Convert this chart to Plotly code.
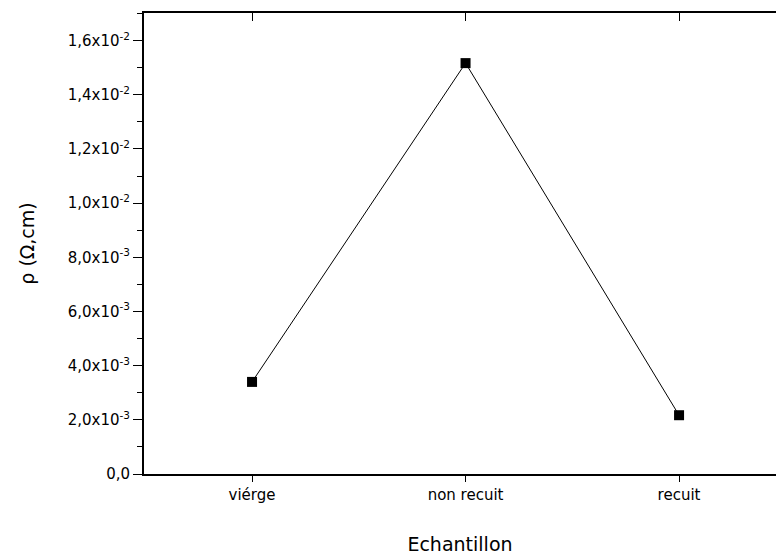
import plotly.graph_objects as go

categories = ["viérge", "non recuit", "recuit"]
rho = [3.40e-3, 1.517e-2, 2.17e-3]
ytick_vals = [0, 2e-3, 4e-3, 6e-3, 8e-3, 1.0e-2, 1.2e-2, 1.4e-2, 1.6e-2]
ytick_text = ["0,0", "2,0x10<sup>-3</sup>", "4,0x10<sup>-3</sup>", "6,0x10<sup>-3</sup>",
              "8,0x10<sup>-3</sup>", "1,0x10<sup>-2</sup>", "1,2x10<sup>-2</sup>",
              "1,4x10<sup>-2</sup>", "1,6x10<sup>-2</sup>"]
yminor_vals = [1e-3, 3e-3, 5e-3, 7e-3, 9e-3, 1.1e-2, 1.3e-2, 1.5e-2, 1.7e-2]

xpos = list(range(len(categories)))
xrange_ = [-0.506, 2.454]
yrange_ = [0, 0.01702]
font = "DejaVu Sans, Liberation Sans, Arial, sans-serif"

fig = go.Figure()
fig.add_trace(go.Scatter(
    x=xpos, y=rho, mode="lines+markers",
    line=dict(color="black", width=1),
    marker=dict(symbol="square", size=10, color="black"),
    showlegend=False, hoverinfo="skip"))
fig.add_trace(go.Scatter(x=xpos, y=rho, xaxis="x2", yaxis="y2", mode="markers",
                         marker=dict(opacity=0), showlegend=False, hoverinfo="skip"))

fig.update_layout(
    width=776, height=556,
    margin=dict(l=144, r=0, t=13, b=82, pad=0),
    plot_bgcolor="white", paper_bgcolor="white",
    font=dict(family=font, size=16, color="black"),
    xaxis=dict(range=xrange_, tickmode="array", tickvals=xpos, ticktext=categories,
               showgrid=False, zeroline=False, showline=True, linecolor="black", linewidth=2,
               ticks="outside", ticklen=6, tickwidth=1, tickcolor="black",
               tickfont=dict(size=15),
               title=dict(text="Echantillon", font=dict(size=19), standoff=35)),
    xaxis2=dict(range=xrange_, overlaying="x", side="top", anchor="y2",
                tickmode="array", tickvals=xpos, showticklabels=False,
                showgrid=False, zeroline=False, showline=True, linecolor="black", linewidth=2,
                ticks="inside", ticklen=8, tickwidth=1, tickcolor="black"),
    yaxis2=dict(range=yrange_, overlaying="y", visible=False, showline=False,
                showgrid=False, zeroline=False),
    yaxis=dict(range=yrange_, tickmode="array", tickvals=ytick_vals, ticktext=ytick_text,
               showgrid=False, zeroline=False, showline=True, linecolor="black", linewidth=2,
               ticks="outside", ticklen=9, tickwidth=1, tickcolor="black",
               tickfont=dict(size=15),
               minor=dict(tickmode="array", tickvals=yminor_vals, ticks="outside",
                          ticklen=5, tickwidth=1, tickcolor="black", showgrid=False),
               title=dict(text="ρ (Ω,cm)", font=dict(size=19), standoff=28)),
)

fig.write_html("out.html", config={"displayModeBar": False})
